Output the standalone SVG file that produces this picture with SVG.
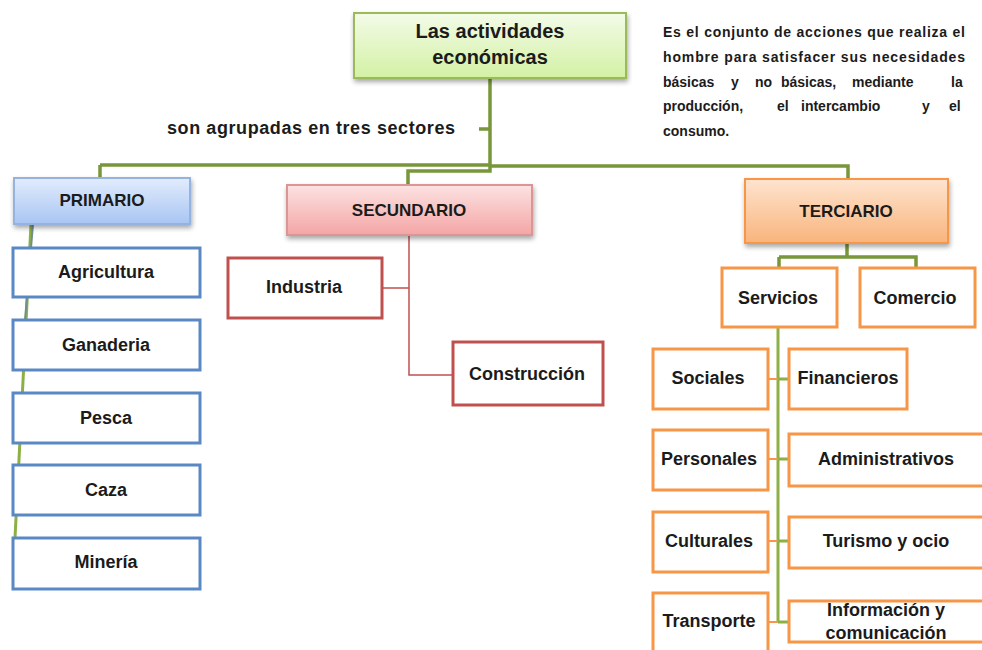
<svg xmlns="http://www.w3.org/2000/svg" width="982" height="650" viewBox="0 0 982 650">
<defs>
<linearGradient id="gGreen" x1="0" y1="0" x2="0" y2="1"><stop offset="0" stop-color="#f3fbe8"/><stop offset="1" stop-color="#d3f1a4"/></linearGradient>
<linearGradient id="gBlue" x1="0" y1="0" x2="0" y2="1"><stop offset="0" stop-color="#e2ecfc"/><stop offset="1" stop-color="#a8c5f3"/></linearGradient>
<linearGradient id="gRed" x1="0" y1="0" x2="0" y2="1"><stop offset="0" stop-color="#fde2e2"/><stop offset="1" stop-color="#f4a5a5"/></linearGradient>
<linearGradient id="gOrange" x1="0" y1="0" x2="0" y2="1"><stop offset="0" stop-color="#fee4cf"/><stop offset="1" stop-color="#f9b47c"/></linearGradient>
<filter id="sh" x="-10%" y="-20%" width="125%" height="160%"><feGaussianBlur in="SourceAlpha" stdDeviation="2.5"/><feOffset dx="1" dy="3"/><feComponentTransfer><feFuncA type="linear" slope="0.35"/></feComponentTransfer><feMerge><feMergeNode/><feMergeNode in="SourceGraphic"/></feMerge></filter>
</defs>
<style>
text{font-family:"Liberation Sans",Arial,sans-serif;font-weight:bold;fill:#1b1b1b;text-anchor:middle}
.t{font-size:18px}
.h{font-size:17px}
.d{font-size:14px;text-anchor:start}
.blue{fill:#fff;stroke:#5a88c4;stroke-width:3}
.red{fill:#fff;stroke:#c0504d;stroke-width:3}
.org{fill:#fff;stroke:#f79646;stroke-width:3}
.gl{fill:none;stroke:#77973a;stroke-width:3.5}
.rl{fill:none;stroke:#c0504d;stroke-width:1.5}
.ol{fill:none;stroke:#f79646;stroke-width:2}
.glt{fill:none;stroke:#8db046;stroke-width:3}
</style>
<rect width="982" height="650" fill="#fff"/>

<g id="connectors">
<path class="gl" d="M490 78 V165 M100 165 H490 M490 166 H848 V180 M100 165 V178 M490 165 V171 H408 V184 M479 129 H490"/>
<path class="glt" d="M31 224 L15 538"/>
<path fill="none" stroke="#6f8f8a" stroke-width="2" d="M33 224 L25 320"/>
<path class="rl" d="M409 235 V375 H453 M382 288 H409"/>
<path class="gl" d="M847 243 V257 M779 257 H916 V267 M779 257 V267"/>
<path class="glt" d="M778 327 V622"/>
<path class="ol" d="M768 379 H778 M768 459 H778 M768 541 H778 M768 622 H778"/>
<path class="glt" d="M778 379 H789 M778 459 H789 M778 541 H789 M778 622 H789"/>
</g>

<g id="main">
<rect x="354" y="13" width="272" height="65" fill="url(#gGreen)" stroke="#9bbb59" stroke-width="2" filter="url(#sh)"/>
<text x="490" y="38" style="font-size:20px">Las actividades</text>
<text x="490" y="64" style="font-size:20px">económicas</text>
</g>

<g id="label-sectores">
<text x="167" y="134" style="font-size:18px;text-anchor:start" textLength="288" lengthAdjust="spacing">son agrupadas en tres sectores</text>
</g>

<g id="description">
<text class="d" x="663" y="37" textLength="302" lengthAdjust="spacing">Es el conjunto de acciones que realiza el</text>
<text class="d" x="663" y="62" textLength="302" lengthAdjust="spacing">hombre para satisfacer sus necesidades</text>
<text class="d" y="87"><tspan x="663">básicas</tspan><tspan x="731">y</tspan><tspan x="755">no</tspan><tspan x="781">básicas,</tspan><tspan x="852">mediante</tspan><tspan x="951">la</tspan></text>
<text class="d" y="111"><tspan x="663">producción,</tspan><tspan x="777">el</tspan><tspan x="801">intercambio</tspan><tspan x="922">y</tspan><tspan x="949">el</tspan></text>
<text class="d" x="663" y="136">consumo.</text>
</g>

<g id="primario">
<rect x="14" y="178" width="176" height="46" fill="url(#gBlue)" stroke="#95b3e0" stroke-width="2" filter="url(#sh)"/>
<text x="102" y="206" class="h">PRIMARIO</text>
</g>
<g id="agricultura"><rect class="blue" x="13" y="248" width="187" height="49"/><text class="t" x="106" y="278">Agricultura</text></g>
<g id="ganaderia"><rect class="blue" x="13" y="320" width="187" height="50"/><text class="t" x="106" y="351">Ganaderia</text></g>
<g id="pesca"><rect class="blue" x="13" y="393" width="187" height="50"/><text class="t" x="106" y="424">Pesca</text></g>
<g id="caza"><rect class="blue" x="13" y="465" width="187" height="50"/><text class="t" x="106" y="496">Caza</text></g>
<g id="mineria"><rect class="blue" x="13" y="538" width="187" height="51"/><text class="t" x="106" y="568">Minería</text></g>

<g id="secundario">
<rect x="287" y="185" width="245" height="50" fill="url(#gRed)" stroke="#d99694" stroke-width="2" filter="url(#sh)"/>
<text x="409" y="216" class="h">SECUNDARIO</text>
</g>
<g id="industria"><rect class="red" x="228" y="258" width="154" height="60"/><text class="t" x="304" y="293">Industria</text></g>
<g id="construccion"><rect class="red" x="453" y="342" width="150" height="63"/><text class="t" x="527" y="380">Construcción</text></g>

<g id="terciario">
<rect x="745" y="179" width="203" height="64" fill="url(#gOrange)" stroke="#f79646" stroke-width="2" filter="url(#sh)"/>
<text x="846" y="217" class="h">TERCIARIO</text>
</g>
<g id="servicios"><rect class="org" x="722" y="268" width="115" height="59"/><text class="t" x="778" y="304">Servicios</text></g>
<g id="comercio"><rect class="org" x="860" y="268" width="115" height="59"/><text class="t" x="915" y="304">Comercio</text></g>

<g id="sociales"><rect class="org" x="653" y="349" width="115" height="60"/><text class="t" x="708" y="384">Sociales</text></g>
<g id="personales"><rect class="org" x="653" y="430" width="115" height="60"/><text class="t" x="709" y="465">Personales</text></g>
<g id="culturales"><rect class="org" x="653" y="512" width="115" height="60"/><text class="t" x="709" y="547">Culturales</text></g>
<g id="transporte"><rect class="org" x="653" y="593" width="115" height="62"/><text class="t" x="709" y="627">Transporte</text></g>

<g id="financieros"><rect class="org" x="789" y="349" width="118" height="60"/><text class="t" x="848" y="384">Financieros</text></g>
<g id="administrativos"><rect class="org" x="789" y="434" width="196" height="52"/><text class="t" x="886" y="465">Administrativos</text></g>
<g id="turismo"><rect class="org" x="789" y="517" width="196" height="51"/><text class="t" x="886" y="547">Turismo y ocio</text></g>
<g id="informacion"><rect class="org" x="789" y="601" width="196" height="41"/><text class="t" x="886" y="616">Información y</text><text class="t" x="886" y="639">comunicación</text></g>
</svg>
